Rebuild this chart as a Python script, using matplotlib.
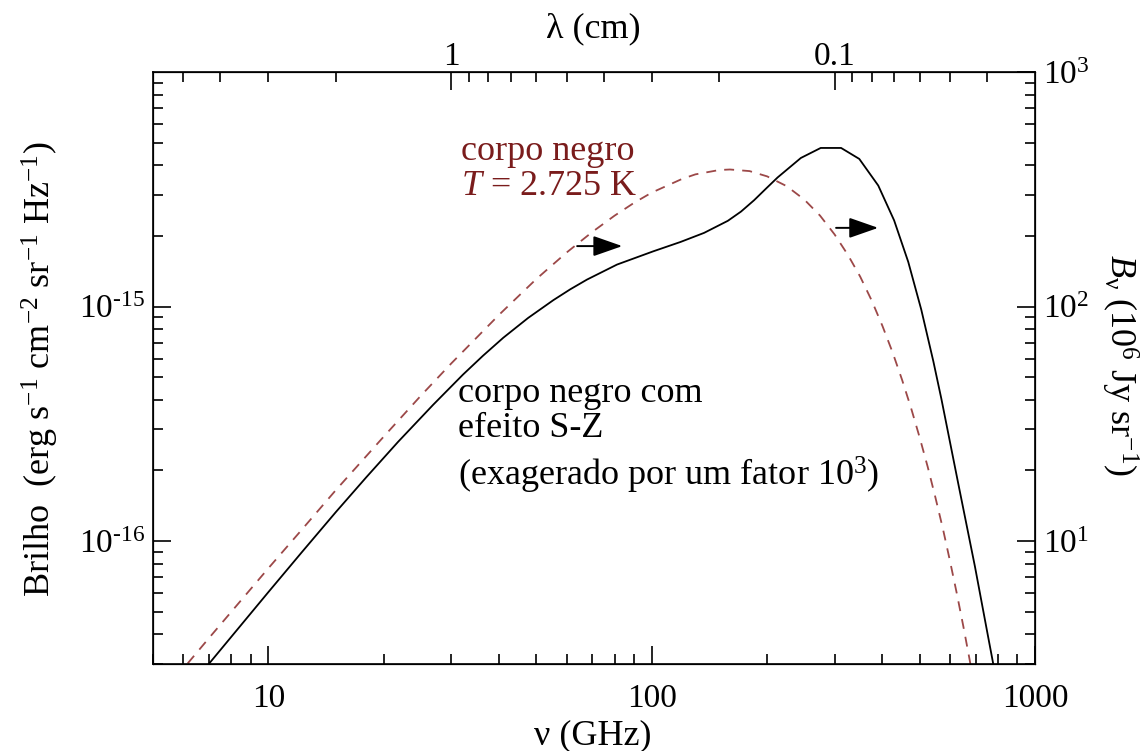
import matplotlib
matplotlib.use("Agg")
import matplotlib.pyplot as plt
from matplotlib.ticker import LogLocator, NullFormatter, FixedLocator

plt.rcParams['font.family'] = 'Liberation Serif'
plt.rcParams['mathtext.fontset'] = 'custom'
plt.rcParams['mathtext.rm'] = 'Liberation Serif'
plt.rcParams['mathtext.it'] = 'Liberation Serif:italic'
plt.rcParams['mathtext.bf'] = 'Liberation Serif:bold'

# frequency (GHz) and brightness (erg s^-1 cm^-2 sr^-1 Hz^-1)
nu_bb = [5, 6, 7, 8, 10, 12, 15, 20, 25, 30, 40, 50, 60, 70, 80, 90, 100,
         120, 130, 150, 160, 180, 200, 225, 250, 275, 300, 325, 350, 375,
         400, 425, 450, 475, 500, 525, 550, 575, 600, 625, 650, 675, 700]
b_bb = [2.00e-17, 2.86e-17, 3.86e-17, 4.99e-17, 7.66e-17, 1.08e-16, 1.65e-16,
        2.79e-16, 4.17e-16, 5.72e-16, 9.23e-16, 1.31e-15, 1.70e-15, 2.08e-15,
        2.44e-15, 2.77e-15, 3.06e-15, 3.50e-15, 3.66e-15, 3.82e-15, 3.84e-15,
        3.78e-15, 3.59e-15, 3.26e-15, 2.86e-15, 2.44e-15, 2.03e-15, 1.66e-15,
        1.34e-15, 1.06e-15, 8.26e-16, 6.38e-16, 4.87e-16, 3.69e-16, 2.77e-16,
        2.07e-16, 1.53e-16, 1.13e-16, 8.23e-17, 5.99e-17, 4.34e-17, 3.13e-17,
        2.25e-17]

nu_sz = [6.5, 7.0, 10.0, 12.2, 15.0, 18.0, 21.8, 26.9, 32.2, 36.3, 41.0,
         47.6, 55.4, 61.3, 67.8, 81.2, 101, 119, 137, 158, 171, 185, 199,
         213, 245, 276, 312, 348, 390, 429, 467, 505, 543, 570, 631, 697,
         757, 770, 780]
b_sz = [2.59e-17, 3.0e-17, 6.06e-17, 8.93e-17, 1.33e-16, 1.87e-16, 2.65e-16,
        3.81e-16, 5.13e-16, 6.17e-16, 7.36e-16, 8.94e-16, 1.065e-15, 1.184e-15,
        1.303e-15, 1.51e-15, 1.72e-15, 1.886e-15, 2.061e-15, 2.32e-15,
        2.54e-15, 2.84e-15, 3.19e-15, 3.55e-15, 4.30e-15, 4.744e-15,
        4.744e-15, 4.26e-15, 3.28e-15, 2.33e-15, 1.55e-15, 9.70e-16, 5.84e-16,
        4.03e-16, 1.75e-16, 7.80e-17, 3.80e-17, 3.28e-17, 2.93e-17]

# axis ticks
nu_ticks = [10, 100, 1000]
nu_tick_labels = ['10', '100', '1000']
b_ticks = [1e-16, 1e-15]
b_tick_labels = [r'10$^{\text{-16}}$', r'10$^{\text{-15}}$']
jy_ticks = [10, 100, 1000]
jy_tick_labels = [r'10$^{1}$', r'10$^{2}$', r'10$^{3}$']
lam_ticks = [1, 0.1]
lam_tick_labels = ['1', '0.1']
lam_minor = [5, 4, 3, 2, 0.9, 0.8, 0.7, 0.6, 0.5, 0.4, 0.3, 0.2,
             0.09, 0.08, 0.07, 0.06, 0.05, 0.04]
C_CM_GHZ = 30.0  # lambda[cm] = 30 / nu[GHz]

bb_text = '#7a1c1c'
bb_line = '#9c4848'

fig = plt.figure(figsize=(11.47, 7.51), dpi=100)
ax = fig.add_axes([153 / 1147, 1 - 663.7 / 751, 882 / 1147, 591.7 / 751])

ax.plot(nu_bb, b_bb, color=bb_line, lw=1.3, ls=(0, (5.5, 4.5)))
ax.plot(nu_sz, b_sz, color='black', lw=1.3)

ax.set_xscale('log')
ax.set_yscale('log')
ax.set_xlim(5, 1000)
ax.set_ylim(3e-17, 1e-14)

ax.set_xticks(nu_ticks)
ax.set_xticklabels(nu_tick_labels)
ax.set_yticks(b_ticks)
ax.set_yticklabels(b_tick_labels)
ax.xaxis.set_minor_locator(LogLocator(base=10, subs=range(2, 10)))
ax.yaxis.set_minor_locator(LogLocator(base=10, subs=range(2, 10)))
ax.xaxis.set_minor_formatter(NullFormatter())
ax.yaxis.set_minor_formatter(NullFormatter())

for sp in ax.spines.values():
    sp.set_linewidth(1.2)

tick_kw = dict(direction='in', width=1.2, labelsize=24)
ax.tick_params(which='major', length=13, **tick_kw)
ax.tick_params(which='minor', length=7, direction='in', width=1.2)
ax.tick_params(axis='x', which='major', pad=14)
ax.tick_params(axis='y', which='major', pad=6)

# right axis in 10^6 Jy sr^-1
ax_r = ax.twinx()
ax_r.set_yscale('log')
lo, hi = ax.get_ylim()
ax_r.set_ylim(lo * 1e17, hi * 1e17)
ax_r.set_yticks(jy_ticks)
ax_r.set_yticklabels(jy_tick_labels)
ax_r.yaxis.set_minor_locator(LogLocator(base=10, subs=range(2, 10)))
ax_r.yaxis.set_minor_formatter(NullFormatter())
ax_r.tick_params(which='major', length=13, pad=6, **tick_kw)
ax_r.tick_params(which='minor', length=7, direction='in', width=1.2)

# top axis in wavelength
ax_t = ax.twiny()
ax_t.set_xscale('log')
ax_t.set_xlim(ax.get_xlim())
ax_t.xaxis.set_major_locator(FixedLocator([C_CM_GHZ / l for l in lam_ticks]))
ax_t.set_xticklabels(lam_tick_labels)
ax_t.xaxis.set_minor_locator(FixedLocator([C_CM_GHZ / l for l in lam_minor]))
ax_t.xaxis.set_minor_formatter(NullFormatter())
ax_t.tick_params(which='major', length=13, pad=0, **tick_kw)
ax_t.tick_params(which='minor', length=7, direction='in', width=1.2)

# axis titles
fig.text(593 / 1147, 1 - 744 / 751, 'ν (GHz)', fontsize=26,
         ha='center', va='baseline')
fig.text(593 / 1147, 1 - 37 / 751, 'λ (cm)', fontsize=26,
         ha='center', va='baseline')
fig.text(40 / 1147, 1 - 369 / 751,
         r'Brilho  (erg s$^{-1}$ cm$^{-2}$ sr$^{-1}$ Hz$^{-1}$)',
         fontsize=26, rotation=90, ha='center', va='center')
fig.text(1120 / 1147, 1 - 365 / 751,
         r'$B_{\mathrm{\nu}}$ (10$^{6}$ Jy sr$^{-1}$)',
         fontsize=26, rotation=270, ha='center', va='center')

# curve labels
ax.text(31.9, 4.23e-15, 'corpo negro', color=bb_text, fontsize=26,
        ha='left', va='baseline')
ax.text(31.9, 3.00e-15, r'$T$ = 2.725 K', color=bb_text, fontsize=26,
        ha='left', va='baseline')
ax.text(31.3, 3.92e-16, 'corpo negro com', fontsize=26,
        ha='left', va='baseline')
ax.text(31.3, 2.77e-16, 'efeito S-Z', fontsize=26,
        ha='left', va='baseline')
ax.text(31.3, 1.72e-16, r'(exagerado por um fator 10$^{3}$)', fontsize=26,
        ha='left', va='baseline')

# arrows showing the shift of the spectrum
arrow_kw = dict(arrowstyle='-|>,head_length=1.0,head_width=0.35',
                color='black', lw=1.4, shrinkA=0, shrinkB=0,
                mutation_scale=18)
ax.annotate('', xy=(83.8, 1.81e-15), xytext=(63.9, 1.81e-15),
            arrowprops=arrow_kw)
ax.annotate('', xy=(389.8, 2.165e-15), xytext=(302.7, 2.165e-15),
            arrowprops=arrow_kw)

fig.savefig('out.png', dpi=100)
